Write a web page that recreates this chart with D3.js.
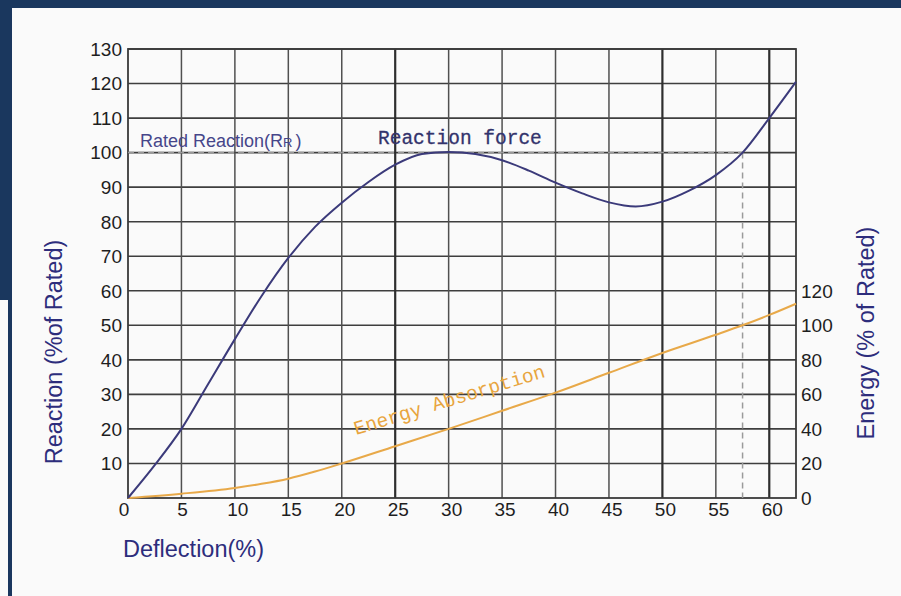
<!DOCTYPE html>
<html lang="en">
<head>
<meta charset="UTF-8">
<title>Reaction / Energy vs Deflection</title>
<script src="https://d3js.org/d3.v7.min.js"></script>
<style>
    body { margin: 0; background: #fafafa; }
    svg { display: block; }
    .tick-label { font-family: "Liberation Sans", Arial, sans-serif; font-size: 19px; fill: #1e1e1e; }
    .axis-title { font-family: "Liberation Sans", Arial, sans-serif; font-size: 23.5px; fill: #2d2d7c; }
</style>
</head>
<body>
<svg width="901" height="596"></svg>
<script>
    // reaction force curve (% of rated) vs deflection (%)
    const reactionX = [0, 2.5, 5, 7.5, 10, 12.5, 15, 17.5, 20, 22.5, 25, 27.5, 30, 32.5, 35, 37.5, 40, 42.5, 45, 47.5, 50, 52.5, 55, 57.5, 60, 62.5];
    const reactionY = [0, 9.5, 20, 33, 46, 58.5, 69.5, 78.5, 85.5, 91.5, 96.5, 99.6, 100.2, 99.6, 97.8, 94.8, 91.3, 88.2, 85.6, 84.4, 85.8, 89, 93.5, 100, 110, 120.5];

    // energy absorption (% of rated) vs deflection (%)
    const energyX = [0, 5, 10, 12.5, 15, 17.5, 20, 25, 30, 35, 40, 45, 50, 55, 57.5, 60, 62.5];
    const energyY = [0, 2.5, 5.8, 8.2, 11.2, 15.3, 20, 30, 40, 50.5, 61, 72.5, 84, 94.5, 100, 106, 112.5];

    const xTicks = [0, 5, 10, 15, 20, 25, 30, 35, 40, 45, 50, 55, 60];
    const reactionTicks = [10, 20, 30, 40, 50, 60, 70, 80, 90, 100, 110, 120, 130];
    const energyTicks = [0, 20, 40, 60, 80, 100, 120];
    const ratedDeflection = 57.5;

    const svg = d3.select("svg");

    // frame of the slide
    svg.append("rect").attr("x", 0).attr("y", 0).attr("width", 901).attr("height", 8).attr("fill", "#1a375e");
    svg.append("rect").attr("x", 0).attr("y", 0).attr("width", 12).attr("height", 300).attr("fill", "#1a375e");
    svg.append("rect").attr("x", 8).attr("y", 0).attr("width", 4).attr("height", 596).attr("fill", "#1a375e");

    const x = d3.scaleLinear().domain([0, 62.5]).range([128, 796]);
    const y = d3.scaleLinear().domain([0, 130]).range([498, 49]);
    const yE = d3.scaleLinear().domain([0, 260]).range([498, 49]);

    // grid
    const grid = svg.append("g");
    grid.selectAll(".h").data(reactionTicks).join("line")
        .attr("x1", x(0)).attr("x2", x(62.5))
        .attr("y1", d => y(d)).attr("y2", d => y(d))
        .attr("stroke", "#3e3e3e").attr("stroke-width", 1.6);
    grid.selectAll(".v").data(xTicks.filter(d => d > 0)).join("line")
        .attr("x1", d => x(d)).attr("x2", d => x(d))
        .attr("y1", y(0)).attr("y2", y(130))
        .attr("stroke", d => (d === 25 || d === 50 || d === 60) ? "#2e2e2e" : "#505050")
        .attr("stroke-width", d => (d === 25 || d === 50 || d === 60) ? 2.2 : 1.5);

    // plot border
    svg.append("rect")
        .attr("x", x(0)).attr("y", y(130))
        .attr("width", x(62.5) - x(0)).attr("height", y(0) - y(130))
        .attr("fill", "none").attr("stroke", "#3a3a3a").attr("stroke-width", 1.8);

    // rated lines
    svg.append("line")
        .attr("x1", x(0)).attr("x2", x(ratedDeflection))
        .attr("y1", y(100)).attr("y2", y(100))
        .attr("stroke", "#9a9a9a").attr("stroke-width", 1.5).attr("stroke-dasharray", "6,4");
    svg.append("line")
        .attr("x1", x(ratedDeflection)).attr("x2", x(ratedDeflection))
        .attr("y1", y(100)).attr("y2", y(0))
        .attr("stroke", "#9a9a9a").attr("stroke-width", 1.5).attr("stroke-dasharray", "6,4");

    // tick labels
    svg.selectAll(".yl").data(reactionTicks).join("text")
        .attr("class", "tick-label")
        .attr("x", 122).attr("y", d => y(d)).attr("dy", "0.36em")
        .attr("text-anchor", "end").text(d => d);
    svg.selectAll(".xl").data(xTicks).join("text")
        .attr("class", "tick-label")
        .attr("x", d => x(d) + (d === 0 ? -4 : (d < 10 ? 1 : 3))).attr("y", 516)
        .attr("text-anchor", "middle").text(d => d);
    svg.selectAll(".el").data(energyTicks).join("text")
        .attr("class", "tick-label")
        .attr("x", 801).attr("y", d => yE(d)).attr("dy", "0.36em")
        .text(d => d);

    // curves
    const line = d3.line().curve(d3.curveMonotoneX);
    svg.append("path")
        .attr("d", line(energyX.map((d, i) => [x(d), yE(energyY[i])])))
        .attr("fill", "none").attr("stroke", "#e8a949").attr("stroke-width", 2);
    svg.append("path")
        .attr("d", line(reactionX.map((d, i) => [x(d), y(reactionY[i])])))
        .attr("fill", "none").attr("stroke", "#3b3a7a").attr("stroke-width", 2);

    // annotations
    const rated = svg.append("text")
        .attr("x", 140).attr("y", 147)
        .attr("font-family", "Liberation Sans, Arial, sans-serif")
        .attr("font-size", 18).attr("fill", "#46468a");
    rated.append("tspan").text("Rated Reaction(R");
    rated.append("tspan").attr("font-size", 13).text("R");
    rated.append("tspan").attr("dx", 3).text(")");

    svg.append("text")
        .attr("x", 378).attr("y", 144)
        .attr("font-family", "Liberation Mono, DejaVu Sans Mono, monospace")
        .attr("font-size", 19.5).attr("fill", "#33336c")
        .attr("stroke", "#33336c").attr("stroke-width", 0.3)
        .text("Reaction force");

    svg.append("text")
        .attr("transform", "translate(356,435) rotate(-17)")
        .attr("font-family", "Liberation Mono, DejaVu Sans Mono, monospace")
        .attr("font-size", 19.5).attr("fill", "#e8a53e")
        .text("Energy Absorption");

    // axis titles
    svg.append("text").attr("class", "axis-title")
        .attr("transform", "translate(62,352) rotate(-90)")
        .attr("text-anchor", "middle").text("Reaction (%of Rated)");
    svg.append("text").attr("class", "axis-title")
        .attr("transform", "translate(874,333) rotate(-90)")
        .attr("text-anchor", "middle").text("Energy (% of Rated)");
    svg.append("text").attr("class", "axis-title")
        .attr("x", 123).attr("y", 557).text("Deflection(%)");
</script>
</body>
</html>
